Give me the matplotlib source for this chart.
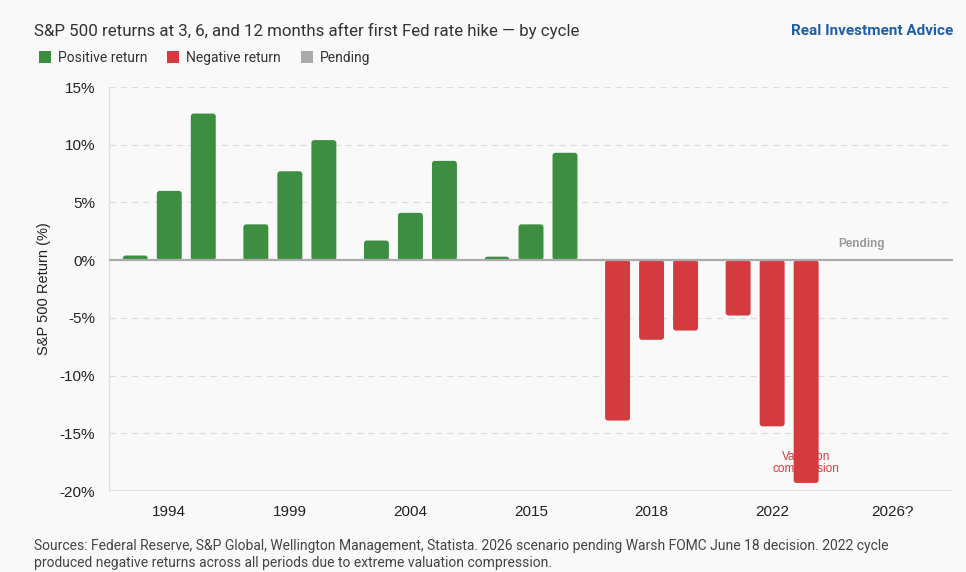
import matplotlib
matplotlib.use("Agg")
import matplotlib.pyplot as plt
from matplotlib.patches import FancyBboxPatch, Patch
import numpy as np

cycles = ["1994", "1999", "2004", "2015", "2018", "2022", "2026?"]
ret_3m = [0.4, 3.1, 1.7, 0.3, -13.9, -4.8, np.nan]
ret_6m = [6.0, 7.7, 4.1, 3.1, -6.9, -14.4, np.nan]
ret_12m = [12.7, 10.4, 8.6, 9.3, -6.1, -19.3, np.nan]
yticks = [-20, -15, -10, -5, 0, 5, 10, 15]

GREEN = "#3e8e41"
RED = "#d33b3e"
GRAY = "#aaaaaa"
BG = "#f9f9f9"

fig = plt.figure(figsize=(9.66, 5.72), dpi=100, facecolor=BG)
ax = fig.add_axes([109/966, 1-491/572, (953-109)/966, (491-87)/572])
ax.set_facecolor(BG)

x = np.arange(len(cycles))
w = 0.207
off = 0.282
for i, series in enumerate([ret_3m, ret_6m, ret_12m]):
    vals = np.array(series, dtype=float)
    cols = [GREEN if v >= 0 else RED for v in np.nan_to_num(vals)]
    bars = ax.bar(x + (i-1)*off, np.nan_to_num(vals), width=w, color=cols)
    for b, v in zip(bars, vals):
        b.set_visible(False)
        if np.isnan(v):
            continue
        bx, by = b.get_x(), b.get_y()
        bw, bh = b.get_width(), b.get_height()
        if bh < 0:
            by, bh = by + bh, -bh
        r = 0.024
        p = FancyBboxPatch((bx, by), bw, bh,
                           boxstyle=f"round,pad=0,rounding_size={r}",
                           mutation_aspect=10.46, facecolor=b.get_facecolor(),
                           edgecolor="none", zorder=3)
        ax.add_patch(p)

ax.set_xlim(-0.5, len(cycles)-0.5)
ax.set_ylim(-20, 15)
ax.set_yticks(yticks)
ax.set_yticklabels([f"{t}%" for t in yticks], fontsize=11, color="#222222",
                   family="Liberation Sans")
ax.set_xticks(x)
ax.set_xticklabels(cycles, fontsize=11, color="#222222", family="Liberation Sans")
ax.tick_params(axis="both", length=0)
ax.tick_params(axis="y", pad=10)
ax.tick_params(axis="x", pad=10)

for t in yticks:
    if t in (0, -20):
        continue
    ax.axhline(t, color="#dddddd", lw=0.9, ls=(0, (5, 4)), zorder=1)
ax.axhline(0, color="#aaaaaa", lw=1.6, zorder=4)
ax.axhline(-20, color="#dddddd", lw=1.2, zorder=1)

for s in ["top", "right", "bottom"]:
    ax.spines[s].set_visible(False)
ax.spines["left"].set_color("#e0e0e0")
ax.spines["left"].set_linewidth(1.0)

ax.set_ylabel("S&P 500 Return (%)", fontsize=10.5, color="#222222",
              family="Liberation Sans", labelpad=6)

ax.text(x[-1] - 0.45, 0.9, "Pending", fontsize=8.5, color="#999999",
        fontweight="bold", ha="left", va="bottom", family="Liberation Sans")
ax.text(x[5] + off, -17.6, "Valuation\ncompression", fontsize=8.5, color=RED,
        ha="center", va="center", family="Liberation Sans", linespacing=1.0, zorder=5)

fig.text(34/966, 1-31/572, "S&P 500 returns at 3, 6, and 12 months after first Fed rate hike \u2014 by cycle",
         fontsize=12.2, color="#333333", family="Roboto", va="center", ha="left")
fig.text(953/966, 1-31/572, "Real Investment Advice", fontsize=11, color="#1f5ea8",
         fontweight="bold", family="Roboto", va="center", ha="right")

handles = [Patch(facecolor=GREEN, edgecolor="none"),
           Patch(facecolor=RED, edgecolor="none"),
           Patch(facecolor=GRAY, edgecolor="none")]
leg = fig.legend(handles, ["Positive return", "Negative return", "Pending"],
                 loc="center left", bbox_to_anchor=(26/966, 1-58/572), ncol=3,
                 frameon=False, handlelength=0.9, handleheight=0.9,
                 handletextpad=0.5, columnspacing=1.4,
                 prop={"family": "Roboto", "size": 10})
for t in leg.get_texts():
    t.set_color("#333333")

fig.text(34/966, 1-546/572,
         "Sources: Federal Reserve, S&P Global, Wellington Management, Statista. 2026 scenario pending Warsh FOMC June 18 decision. 2022 cycle",
         fontsize=10, color="#444444", family="Roboto", va="center", ha="left")
fig.text(34/966, 1-563/572,
         "produced negative returns across all periods due to extreme valuation compression.",
         fontsize=10, color="#444444", family="Roboto", va="center", ha="left")

fig.savefig("out.png", dpi=100, facecolor=BG)
